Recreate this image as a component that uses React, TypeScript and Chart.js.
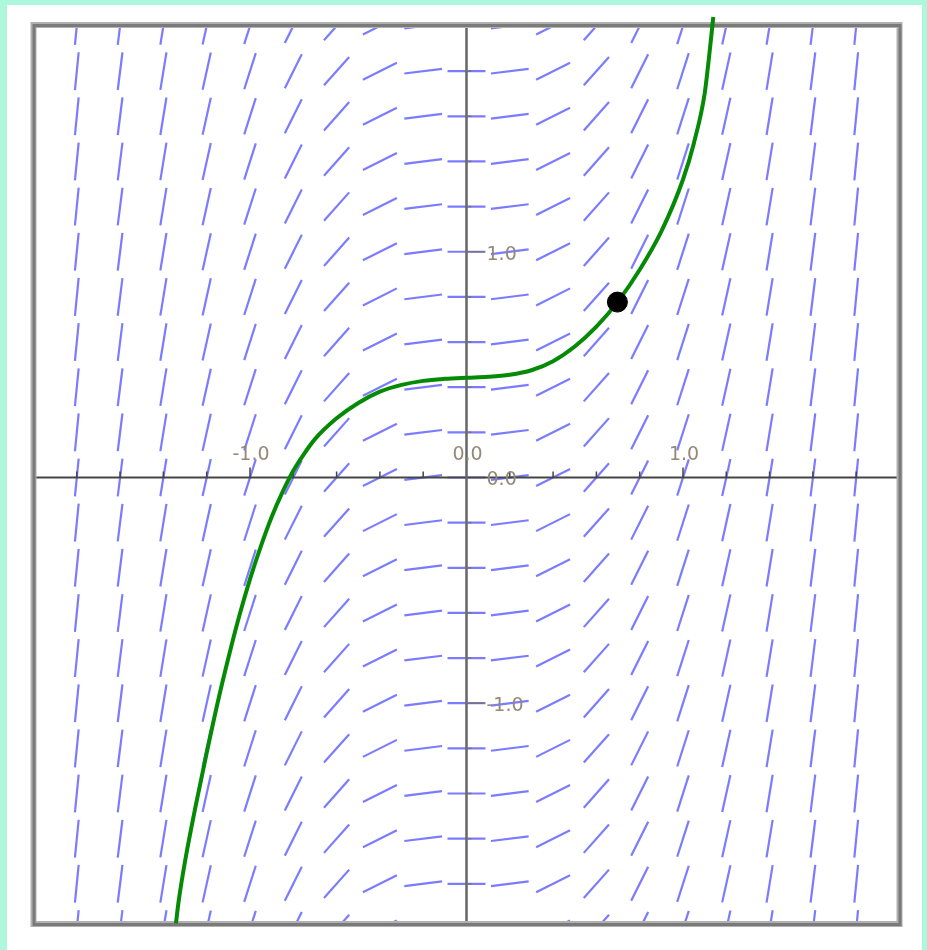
import React, { useEffect, useRef } from "react";
import { Chart, registerables } from "chart.js";

Chart.register(...registerables);

// Slope field: column x positions, slope dy/dx read per column, row y positions
const fieldColumns = [-1.8, -1.6, -1.4, -1.2, -1.0, -0.8, -0.6, -0.4, -0.2, 0.0, 0.2, 0.4, 0.6, 0.8, 1.0, 1.2, 1.4, 1.6, 1.8];
const fieldSlopes = [9.72, 7.68, 5.88, 4.32, 3.0, 1.92, 1.08, 0.48, 0.12, 0.0, 0.12, 0.48, 1.08, 1.92, 3.0, 4.32, 5.88, 7.68, 9.72];
const fieldRows = [-2.0, -1.8, -1.6, -1.4, -1.2, -1.0, -0.8, -0.6, -0.4, -0.2, 0.0, 0.2, 0.4, 0.6, 0.8, 1.0, 1.2, 1.4, 1.6, 1.8, 2.0];

// Solution curve (green)
const curveX = [-1.342, -1.33, -1.3, -1.25, -1.2, -1.15, -1.1, -1.05, -1.0, -0.95, -0.9, -0.85, -0.8, -0.75, -0.7, -0.6, -0.5, -0.4, -0.3, -0.2, -0.1, 0.0, 0.1, 0.2, 0.3, 0.4, 0.5, 0.6, 0.7, 0.8, 0.9, 1.0, 1.05, 1.1, 1.12, 1.14];
const curveY = [-1.975, -1.88, -1.7, -1.45, -1.22, -1.0, -0.8, -0.615, -0.45, -0.305, -0.175, -0.065, 0.03, 0.105, 0.17, 0.262, 0.33, 0.38, 0.41, 0.428, 0.437, 0.442, 0.446, 0.455, 0.475, 0.515, 0.58, 0.668, 0.78, 0.92, 1.09, 1.32, 1.48, 1.7, 1.86, 2.04];

// Initial condition point
const pointX = [0.697];
const pointY = [0.777];

// Axis ticks and labels
const xMinorTicks = [-1.8, -1.6, -1.4, -1.2, -1.0, -0.8, -0.6, -0.4, -0.2, 0.2, 0.4, 0.6, 0.8, 1.0, 1.2, 1.4, 1.6, 1.8];
const yMinorTicks = [-1.8, -1.6, -1.4, -1.2, -1.0, -0.8, -0.6, -0.4, -0.2, 0.2, 0.4, 0.6, 0.8, 1.0, 1.2, 1.4, 1.6, 1.8];
const xLabelValues = [-1.0, 0.0, 1.0];
const xLabelTexts = ["-1.0", "0.0", "1.0"];
const yLabelValues = [1.0, 0.0, -1.0];
const yLabelTexts = ["1.0", "0.0", "-1.0"];

const fieldPlugin = {
  id: "fieldPlugin",
  beforeDraw(chart: any) {
    const ctx = chart.ctx;
    ctx.save();
    ctx.fillStyle = "#adf7dd";
    ctx.fillRect(0, 0, chart.width, chart.height);
    ctx.fillStyle = "#ffffff";
    ctx.fillRect(7, 5, 915, chart.height - 5);
    ctx.restore();
  },
  beforeDatasetsDraw(chart: any) {
    const ctx = chart.ctx;
    const xs = chart.scales.x;
    const ys = chart.scales.y;
    const area = chart.chartArea;
    const kX = xs.getPixelForValue(1) - xs.getPixelForValue(0);
    const kY = ys.getPixelForValue(0) - ys.getPixelForValue(1);
    const L = 38;

    // slope segments
    ctx.save();
    ctx.beginPath();
    ctx.rect(area.left, area.top, area.right - area.left, area.bottom - area.top);
    ctx.clip();
    ctx.strokeStyle = "rgba(72, 72, 255, 0.72)";
    ctx.lineWidth = 2.2;
    ctx.lineCap = "butt";
    fieldColumns.forEach((cx, i) => {
      const m = fieldSlopes[i];
      const dx = kX;
      const dy = m * kY;
      const n = Math.sqrt(dx * dx + dy * dy);
      const hx = (dx / n) * (L / 2);
      const hy = (dy / n) * (L / 2);
      const px = xs.getPixelForValue(cx);
      fieldRows.forEach((ry) => {
        const py = ys.getPixelForValue(ry);
        ctx.beginPath();
        ctx.moveTo(px - hx, py + hy);
        ctx.lineTo(px + hx, py - hy);
        ctx.stroke();
      });
    });
    ctx.restore();

    const x0 = xs.getPixelForValue(0);
    const y0 = ys.getPixelForValue(0);

    ctx.save();
    // axes
    ctx.strokeStyle = "#454545";
    ctx.lineWidth = 2;
    ctx.beginPath();
    ctx.moveTo(area.left, y0);
    ctx.lineTo(area.right, y0);
    ctx.stroke();
    ctx.strokeStyle = "#666666";
    ctx.lineWidth = 2.5;
    ctx.beginPath();
    ctx.moveTo(x0, area.top);
    ctx.lineTo(x0, area.bottom);
    ctx.stroke();

    // ticks
    ctx.strokeStyle = "#444444";
    ctx.lineWidth = 1.5;
    xMinorTicks.forEach((v) => {
      const p = xs.getPixelForValue(v);
      const len = Math.abs(Math.abs(v) - 1) < 1e-6 ? 10 : 6;
      ctx.beginPath();
      ctx.moveTo(p, y0);
      ctx.lineTo(p, y0 - len);
      ctx.stroke();
    });
    ctx.strokeStyle = "#777777";
    yMinorTicks.forEach((v) => {
      const p = ys.getPixelForValue(v);
      const len = Math.abs(Math.abs(v) - 1) < 1e-6 ? 18 : 5;
      ctx.beginPath();
      ctx.moveTo(x0, p);
      ctx.lineTo(x0 + len, p);
      ctx.stroke();
    });

    // labels
    ctx.fillStyle = "#958877";
    ctx.font = "19px 'DejaVu Sans', sans-serif";
    ctx.textAlign = "center";
    ctx.textBaseline = "alphabetic";
    xLabelValues.forEach((v, i) => {
      ctx.fillText(xLabelTexts[i], xs.getPixelForValue(v) + 1, y0 - 17);
    });
    ctx.textAlign = "left";
    ctx.textBaseline = "middle";
    yLabelValues.forEach((v, i) => {
      ctx.fillText(yLabelTexts[i], x0 + 20, ys.getPixelForValue(v) + 3);
    });

    // frame
    const l = area.left, t = area.top - 1, r = area.right, b = area.bottom;
    ctx.strokeStyle = "#b0b0b0";
    ctx.lineWidth = 6;
    ctx.strokeRect(l, t, r - l, b - t);
    ctx.strokeStyle = "#7a7a7a";
    ctx.lineWidth = 3;
    ctx.strokeRect(l + 0.5, t + 0.5, r - l, b - t);
    ctx.restore();
  },
};

export default function App() {
  const ref = useRef<HTMLCanvasElement | null>(null);
  useEffect(() => {
    const canvas = ref.current;
    if (!canvas) return;
    const chart = new Chart(canvas, {
      type: "scatter",
      data: {
        datasets: [
          {
            label: "point",
            data: pointX.map((x, i) => ({ x, y: pointY[i] })),
            pointRadius: 10,
            pointBackgroundColor: "#000000",
            pointBorderColor: "#000000",
            showLine: false,
            clip: false as any,
            order: 0,
          },
          {
            label: "solution",
            data: curveX.map((x, i) => ({ x, y: curveY[i] })),
            showLine: true,
            pointRadius: 0,
            borderColor: "#058a05",
            borderWidth: 4,
            cubicInterpolationMode: "monotone",
            clip: false as any,
            order: 1,
          } as any,
        ],
      },
      options: {
        animation: false,
        responsive: false,
        devicePixelRatio: 1,
        layout: { padding: { left: 33.5, right: 27.5, top: 26, bottom: 26 } },
        plugins: { legend: { display: false }, tooltip: { enabled: false } },
        events: [],
        scales: {
          x: { type: "linear", min: -2, max: 2, display: false },
          y: { type: "linear", min: -1.978, max: 2, display: false },
        },
      },
      plugins: [fieldPlugin],
    });
    return () => chart.destroy();
  }, []);
  return (
    <canvas
      ref={ref}
      width={927}
      height={950}
      style={{ position: "fixed", left: 0, top: 0, width: 927, height: 950 }}
    />
  );
}
